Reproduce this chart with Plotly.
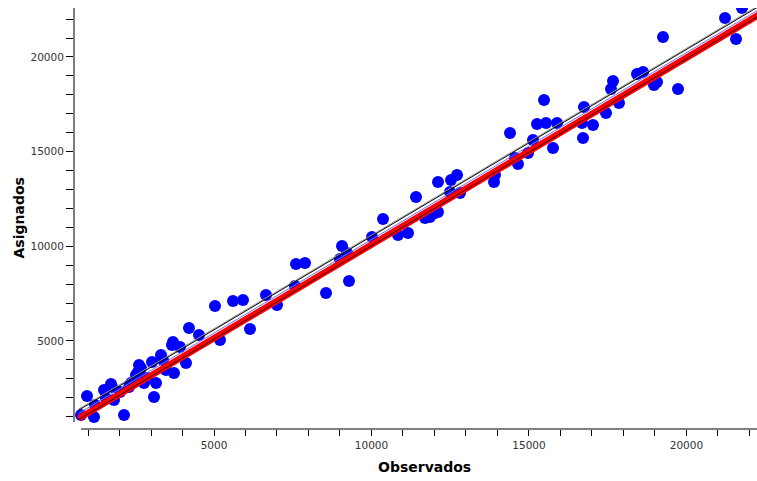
import plotly.graph_objects as go

observados = [21764, 21224, 21574, 19256, 19732, 18430, 18621, 18970, 19065, 17668,
              17605, 17859, 17446, 16748, 16684, 17033, 16716, 15763, 15478, 15890,
              15541, 15255, 15128, 14398, 14970, 14652, 14557, 13922, 13890, 12715,
              12525, 12112, 12493, 12811, 11414, 12112, 12017, 11858, 11699, 10366,
              11160, 10842, 10017, 9064, 9223, 9001, 7889, 7604, 9286, 8556,
              7572, 6651, 7000, 5921, 5603, 5032, 6143, 5191, 4206, 4524,
              3921, 3698, 3667, 3317, 3032, 2619, 2682, 2524, 2587, 3730,
              4111, 3476, 3159, 2778, 2301, 2365, 1762, 1730, 1508, 1825,
              3095, 2143, 1190, 968, 777, 1222, 1571, 2873, 3381, 2016]
asignados = [22590, 22060, 20950, 21056, 18309, 19101, 19207, 18520, 18679, 18731,
             18309, 17569, 17041, 17358, 16513, 16407, 15720, 15192, 17728, 16513,
             16513, 16460, 15614, 15984, 14928, 14347, 14663, 13765, 13396, 13765,
             13501, 13396, 12867, 12814, 12603, 11811, 11758, 11547, 11494, 11441,
             10701, 10596, 10490, 10014, 9645, 9328, 9116, 9064, 8165, 7531,
             7901, 7426, 6898, 7162, 7109, 6845, 5630, 5048, 5682, 5313,
             4679, 4943, 4784, 4256, 3886, 3728, 3569, 3199, 3357, 3305,
             3833, 3464, 2777, 2777, 2565, 2777, 2565, 2724, 2407, 1879,
             2037, 1086, 981, 2090, 1086, 1615, 1984, 3041, 3992, 2301]

# Fitted line and band lines (x endpoints and corresponding y values)
line_x = [700, 22400]
fit_y = [900, 22330]
upper_black_y = [1340, 22770]
upper_gray_y = [1400, 22830]
upper_blue_y = [1170, 22600]
lower_black_y = [840, 22270]

x_tickvals = [5000, 10000, 15000, 20000]
x_ticktext = ["5000", "10000", "15000", "20000"]
y_tickvals = [5000, 10000, 15000, 20000]
y_ticktext = ["5000", "10000", "15000", "20000"]

fig = go.Figure()
fig.add_trace(go.Scatter(x=observados, y=asignados, mode="markers",
                         marker=dict(color="#0000FF", size=12, line=dict(width=0)),
                         showlegend=False, hoverinfo="x+y"))
fig.add_trace(go.Scatter(x=line_x, y=upper_gray_y, mode="lines",
                         line=dict(color="#999999", width=1), showlegend=False))
fig.add_trace(go.Scatter(x=line_x, y=upper_black_y, mode="lines",
                         line=dict(color="#000000", width=1), showlegend=False))
fig.add_trace(go.Scatter(x=line_x, y=upper_blue_y, mode="lines",
                         line=dict(color="#6f6fff", width=1), showlegend=False))
fig.add_trace(go.Scatter(x=line_x, y=fit_y, mode="lines",
                         line=dict(color="#FF0000", width=6.5), showlegend=False))
fig.add_trace(go.Scatter(x=line_x, y=lower_black_y, mode="lines",
                         line=dict(color="#000000", width=0.8), showlegend=False))

tickfont = dict(family="DejaVu Sans", size=10.5, color="#333333")
fig.update_layout(
    width=757, height=481,
    margin=dict(l=74, r=0, t=8, b=52),
    paper_bgcolor="white", plot_bgcolor="white",
    xaxis=dict(range=[555, 22240], showgrid=False, zeroline=False, showline=False,
               tickmode="array", tickvals=x_tickvals, ticktext=x_ticktext,
               ticks="outside", ticklen=6,
               tickcolor="black", tickwidth=1, tickfont=tickfont,
               minor=dict(dtick=1000, ticks="outside", ticklen=6, tickcolor="black",
                          showgrid=False)),
    yaxis=dict(range=[347, 22588], showgrid=False, zeroline=False, showline=False,
               tickmode="array", tickvals=y_tickvals, ticktext=y_ticktext,
               ticks="outside", ticklen=7,
               tickcolor="black", tickwidth=1, tickfont=tickfont,
               minor=dict(dtick=1000, ticks="outside", ticklen=7, tickcolor="black",
                          showgrid=False)),
    shapes=[
        dict(type="line", xref="paper", yref="paper", x0=0.0102, x1=1, y0=0, y1=0,
             line=dict(color="black", width=1)),
        dict(type="line", xref="paper", yref="paper", x0=0, x1=0, y0=0.0166, y1=1,
             line=dict(color="black", width=1)),
    ],
    annotations=[
        dict(text="<b>Observados</b>", xref="paper", yref="paper", x=(424 - 74) / 683,
             y=-(467 - 429) / 421, showarrow=False, xanchor="center", yanchor="middle",
             font=dict(family="DejaVu Sans", size=14, color="black")),
        dict(text="<b>Asignados</b>", xref="paper", yref="paper", x=-(74 - 18) / 683,
             y=0.5, showarrow=False, xanchor="center", yanchor="middle", textangle=-90,
             font=dict(family="DejaVu Sans", size=14, color="black")),
    ],
)

fig.write_html("out.html")
